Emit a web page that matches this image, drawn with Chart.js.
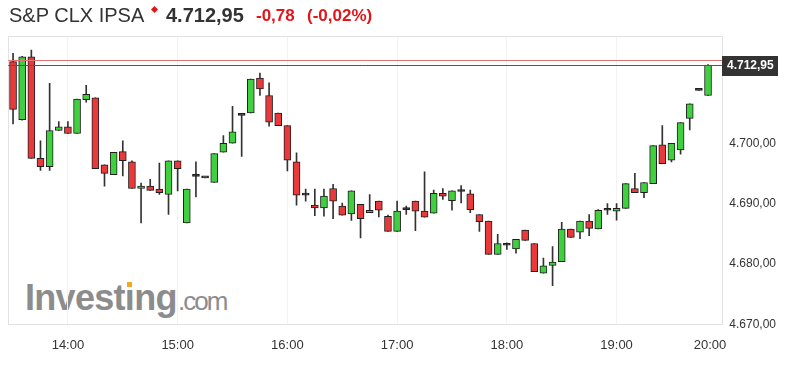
<!DOCTYPE html>
<html><head><meta charset="utf-8">
<script src="https://cdn.jsdelivr.net/npm/chart.js@4.4.1/dist/chart.umd.min.js"></script>
<style>
html,body{margin:0;padding:0;background:#fff;}
#wrap{position:relative;width:790px;height:366px;overflow:hidden;font-family:"Liberation Sans",Arial,sans-serif;}
canvas{position:absolute;left:0;top:0;}
.h{position:absolute;white-space:nowrap;}
</style></head><body>
<div id="wrap">
<div class="h" id="wm1" style="left:25px;top:280px;font-size:36px;line-height:36px;font-weight:bold;color:#8c8c8c;letter-spacing:-0.7px">Invest&#305;ng</div>
<div style="position:absolute;left:127px;top:282px;width:5px;height:5px;background:#f5a623"></div>
<div class="h" style="left:178px;top:288px;font-size:26px;line-height:26px;color:#8c8c8c;letter-spacing:-2px">.com</div>
<canvas id="c" width="790" height="366"></canvas>
<div class="h" id="hName" style="left:9px;top:5px;font-size:20px;line-height:20px;color:#333"></div>
<div style="position:absolute;left:152px;top:7px;width:5px;height:5px;background:#e3151a;transform:rotate(45deg)"></div>
<div class="h" id="hLast" style="left:166px;top:5px;font-size:20px;line-height:20px;font-weight:bold;color:#333"></div>
<div class="h" id="hChg" style="left:256px;top:7px;font-size:17px;line-height:17px;font-weight:bold;color:#e3151a"></div>
<div class="h" id="hPct" style="left:307px;top:7px;font-size:17px;line-height:17px;font-weight:bold;color:#e3151a"></div>
</div>
<script>
const instrument = "S&P CLX IPSA";
const lastLabel = "4.712,95";
const changeLabel = "-0,78";
const pctLabel = "(-0,02%)";
const prevClose = 4713.73;
const lastPrice = 4712.95;

const times = ["13:30","13:35","13:40","13:45","13:50","13:55","14:00","14:05","14:10","14:15",
"14:20","14:25","14:30","14:35","14:40","14:45","14:50","14:55","15:00","15:05",
"15:10","15:15","15:20","15:25","15:30","15:35","15:40","15:45","15:50","15:55",
"16:00","16:05","16:10","16:15","16:20","16:25","16:30","16:35","16:40","16:45",
"16:50","16:55","17:00","17:05","17:10","17:15","17:20","17:25","17:30","17:35",
"17:40","17:45","17:50","17:55","18:00","18:05","18:10","18:15","18:20","18:25",
"18:30","18:35","18:40","18:45","18:50","18:55","19:00","19:05","19:10","19:15",
"19:20","19:25","19:30","19:35","19:40","19:45","19:50"];

const opens = [4713.5,4703.9,4714.3,4697.5,4696.1,4702.1,4702.7,4701.6,4707.2,4707.5,
4696.4,4694.8,4698.6,4696.9,4692.5,4692.9,4692.4,4691.5,4697.1,4686.8,
4694.5,4694.25,4693.5,4698.5,4700.0,4704.6,4705.0,4710.8,4707.9,4705.0,
4702.9,4696.9,4691.4,4689.75,4689.3,4692.5,4689.6,4688.3,4689.9,4688.5,
4690.4,4687.9,4685.4,4689.0,4690.4,4688.75,4688.4,4691.7,4690.5,4692.0,
4691.6,4688.2,4687.1,4681.6,4683.1,4682.5,4685.6,4683.4,4678.5,4679.75,
4680.4,4685.8,4685.25,4687.1,4685.8,4688.9,4688.75,4689.2,4692.5,4691.8,
4693.3,4699.75,4697.2,4698.9,4704.1,4708.75,4707.9];

const highs = [4714.9,4714.4,4715.4,4700.4,4709.9,4703.6,4703.6,4707.3,4709.6,4707.5,
4696.4,4698.5,4700.4,4697.1,4693.4,4694.0,4696.7,4697.1,4697.1,4692.4,
4696.9,4694.25,4698.3,4701.25,4706.1,4704.6,4710.6,4711.6,4710.0,4705.0,
4702.9,4698.4,4692.4,4692.4,4692.4,4693.2,4690.1,4692.1,4689.9,4691.5,
4690.4,4688.1,4690.4,4689.6,4690.4,4695.25,4692.25,4692.5,4692.1,4693.0,
4692.25,4688.2,4687.1,4684.9,4683.5,4684.1,4685.6,4683.4,4681.0,4682.9,
4686.9,4685.8,4687.1,4688.2,4689.0,4690.0,4690.0,4693.3,4695.0,4693.5,
4699.6,4702.9,4700.0,4703.4,4706.5,4708.75,4713.0];

const lows = [4703.2,4703.8,4697.5,4695.5,4695.5,4702.1,4701.6,4701.6,4706.8,4695.8,
4692.9,4694.8,4694.6,4692.5,4686.8,4692.2,4691.5,4688.2,4692.1,4686.8,
4691.1,4694.25,4693.5,4698.5,4700.0,4697.8,4705.0,4707.9,4702.8,4702.9,
4695.4,4689.75,4690.4,4688.0,4687.9,4687.5,4688.1,4687.2,4684.3,4688.5,
4687.8,4685.4,4685.4,4688.2,4685.5,4687.75,4688.4,4690.7,4688.9,4690.1,
4688.5,4685.4,4681.6,4681.6,4682.4,4681.8,4683.9,4678.75,4678.5,4676.4,
4680.4,4684.4,4684.2,4684.7,4685.8,4688.2,4687.25,4689.2,4691.8,4691.0,
4693.3,4696.6,4696.9,4698.2,4702.2,4708.75,4707.9];

const closes = [4705.6,4714.3,4697.5,4696.1,4702.1,4702.7,4701.6,4707.3,4708.1,4695.8,
4695.0,4698.5,4697.1,4692.5,4692.9,4692.2,4691.8,4697.1,4695.8,4692.4,
4694.5,4694.25,4698.3,4700.0,4701.9,4704.6,4710.6,4709.0,4703.5,4702.9,
4697.2,4691.4,4691.4,4689.3,4691.25,4690.4,4688.1,4692.1,4687.5,4688.9,
4688.9,4685.4,4688.75,4689.0,4688.75,4687.75,4691.7,4691.25,4692.1,4692.0,
4689.0,4687.0,4681.6,4683.4,4683.1,4684.1,4683.9,4678.75,4679.7,4680.3,
4685.8,4684.4,4687.1,4685.9,4688.9,4688.9,4689.2,4693.3,4691.8,4693.5,
4699.6,4696.6,4700.0,4703.4,4706.5,4708.75,4712.95];

const xTickTimes = ["13:30","14:00","15:00","16:00","17:00","18:00","19:00","20:00"];
const xTickLabels = ["","14:00","15:00","16:00","17:00","18:00","19:00","20:00"];
const yTickValues = [4670,4680,4690,4700];
const yTickLabels = ["4.670,00","4.680,00","4.690,00","4.700,00"];

document.getElementById('hName').textContent = instrument;
document.getElementById('hLast').textContent = lastLabel;
document.getElementById('hChg').textContent = changeLabel;
document.getElementById('hPct').textContent = pctLabel;

const toMin = s => parseInt(s.slice(0,2),10)*60 + parseInt(s.slice(3),10);
const GREEN = '#3fcf3f', RED = '#e8393b';

const bodyData = times.map((t,i)=>({x:toMin(t), y:[opens[i], closes[i]]}));
const wickData = times.map((t,i)=>({x:toMin(t), y:[lows[i], highs[i]]}));
const bodyColors = times.map((t,i)=> closes[i]>opens[i] ? GREEN : (closes[i]<opens[i] ? RED : '#222'));

Chart.defaults.font.family = "'Liberation Sans', Arial, sans-serif";

const overlay = {
  id:'overlay',
  beforeDatasetsDraw(chart){
    const {ctx, chartArea:a} = chart;
    ctx.save();
    ctx.strokeStyle = '#e2e2e2'; ctx.lineWidth = 1;
    ctx.strokeRect(Math.round(a.left)+0.5, Math.round(a.top)+0.5, Math.round(a.right)-Math.round(a.left), Math.round(a.bottom)-Math.round(a.top));
    ctx.restore();
  },
  afterDatasetsDraw(chart){
    const {ctx, chartArea:a, scales:{y}} = chart;
    ctx.save();
    ctx.lineWidth = 1;
    const yp = Math.round(y.getPixelForValue(prevClose))+0.5;
    ctx.strokeStyle = '#e07575';
    ctx.beginPath(); ctx.moveTo(a.left, yp); ctx.lineTo(a.right, yp); ctx.stroke();
    const yl = Math.round(y.getPixelForValue(lastPrice))+0.5;
    ctx.strokeStyle = '#555';
    ctx.beginPath(); ctx.moveTo(a.left, yl); ctx.lineTo(a.right, yl); ctx.stroke();
    ctx.fillStyle = '#333';
    ctx.fillRect(Math.round(a.right), Math.round(yl)-10, 56, 20);
    ctx.fillStyle = '#fff';
    ctx.font = "bold 12px 'Liberation Sans', Arial, sans-serif";
    ctx.textBaseline = 'middle';
    ctx.textAlign = 'left';
    ctx.fillText(lastLabel, Math.round(a.right)+5, yl+0.5);
    ctx.restore();
  }
};

new Chart(document.getElementById('c'), {
  type:'bar',
  data:{
    datasets:[
      {data:bodyData, backgroundColor:bodyColors, borderColor:'#1f1f1f', borderWidth:1, borderSkipped:false,
       barThickness:7, minBarLength:2, grouped:false, order:0},
      {data:wickData, backgroundColor:'#333', borderWidth:0, barThickness:1, grouped:false, order:1}
    ]
  },
  options:{
    responsive:false, animation:false, events:[],
    layout:{padding:{left:8, right:7, top:36, bottom:0}},
    plugins:{legend:{display:false}, tooltip:{enabled:false}},
    scales:{
      x:{type:'linear', offset:false, min:807.4, max:1197.8,
         afterBuildTicks:(s)=>{ s.ticks = xTickTimes.map(t=>({value:toMin(t)})); },
         ticks:{autoSkip:false, maxRotation:0, align:'inner', padding:13, color:'#333', font:{size:13},
                callback:(v,i)=>xTickLabels[i]},
         grid:{offset:false, drawTicks:false, color:(c)=> (c.index===0 || c.index===xTickTimes.length-1) ? 'rgba(0,0,0,0)' : '#f2f2f2'},
         border:{display:false}},
      y:{type:'linear', position:'right', min:4670, max:4717.75,
         afterBuildTicks:(s)=>{ s.ticks = yTickValues.map(v=>({value:v})); },
         ticks:{padding:7, color:'#333', font:{size:12}, callback:(v,i)=>yTickLabels[i]},
         grid:{display:false, drawTicks:false},
         border:{display:false}}
    }
  },
  plugins:[overlay]
});
</script>
</body></html>
